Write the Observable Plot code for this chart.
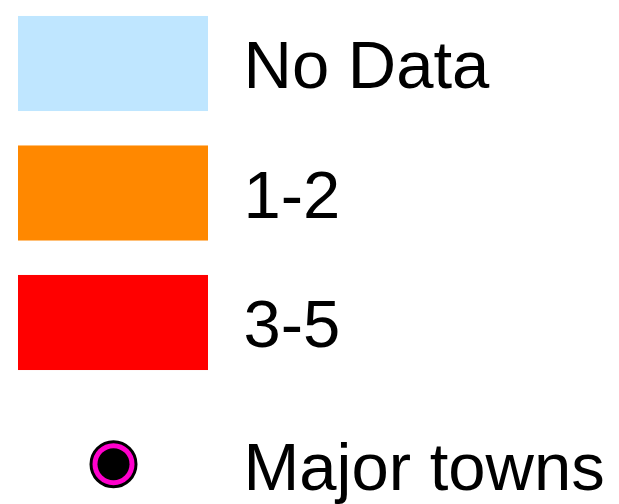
<!DOCTYPE html>
<html>
<head>
<meta charset="utf-8">
<script src="https://cdn.jsdelivr.net/npm/d3@7"></script>
<script src="https://cdn.jsdelivr.net/npm/@observablehq/plot@0.6"></script>
<style>
  html, body { margin: 0; padding: 0; background: #ffffff; }
  svg { display: block; }
</style>
</head>
<body>
<div id="chart"></div>
<script>
// Legend categories and colours
const categories = ["No Data", "1-2", "3-5"];
const colors = ["#bfe6ff", "#ff8800", "#ff0000"];
const townLabel = ["Major towns"];

const rows = categories.map((label, i) => ({label, color: colors[i], row: i}));
const townRow = [{label: townLabel[0], row: 3.09}];

const half = 0.367;          // swatch half height in row units
const font = "Liberation Sans, Arial, Helvetica, sans-serif";

const chart = Plot.plot({
  width: 619,
  height: 504,
  margin: 0,
  x: {type: "linear", domain: [0, 619], range: [0, 619], axis: null},
  y: {type: "linear", domain: [0, 1], range: [63.5, 193], axis: null},
  style: {background: "#ffffff"},
  marks: [
    Plot.rect(rows, {
      x1: () => 18, x2: () => 208,
      y1: d => d.row - half, y2: d => d.row + half,
      fill: d => d.color
    }),
    Plot.text(rows, {
      x: () => 243, y: "row", text: "label",
      textAnchor: "start", lineAnchor: "middle", dy: 3,
      fontSize: 67, fontFamily: font, fill: "#000000"
    }),
    Plot.dot(townRow, {
      x: () => 113, y: "row", r: 22.5,
      fill: "#ff00cc", stroke: "#000000", strokeWidth: 3
    }),
    Plot.dot(townRow, {
      x: () => 113, y: "row", r: 16, fill: "#000000", stroke: "none"
    }),
    Plot.text(townRow, {
      x: () => 243, y: "row", text: "label",
      textAnchor: "start", lineAnchor: "middle", dy: 4,
      fontSize: 67, fontFamily: font, fill: "#000000"
    })
  ]
});
document.getElementById("chart").appendChild(chart);
</script>
</body>
</html>
